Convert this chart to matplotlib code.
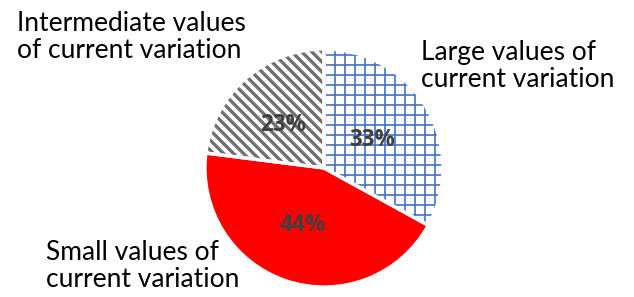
import matplotlib
matplotlib.use('Agg')
import matplotlib.pyplot as plt

labels = ['Large values of\ncurrent variation', 'Small values of\ncurrent variation',
          'Intermediate values\nof current variation']
shares = [33, 44, 23]
pct_text = ['33%', '44%', '23%']

W, H = 634, 297
DPI = 120
BS = chr(92)
plt.rcParams['font.family'] = ['Lato', 'DejaVu Sans']

fig = plt.figure(figsize=(W / DPI, H / DPI), dpi=DPI)
ax = fig.add_axes([0, 0, 1, 1])

cx, cy, r = 324, H - 168, 119

# filled / hatched wedges
wedges, _ = ax.pie(shares, startangle=90, counterclock=False, center=(cx, cy), radius=r,
                   colors=['white', '#FF0000', 'white'], frame=True)
hatch_style = [('++', '#4472C4', 1.0), (None, None, None), (BS * 4, '#707070', 2.0)]
for w, (h, c, lw) in zip(wedges, hatch_style):
    w.set_linewidth(0)
    if h:
        w.set_hatch(h)
        w.set_edgecolor(c)
        if hasattr(w, 'set_hatch_linewidth'):
            w.set_hatch_linewidth(lw)

# white separators
ax.pie(shares, startangle=90, counterclock=False, center=(cx, cy), radius=r,
       colors=['none'] * 3, wedgeprops=dict(edgecolor='white', linewidth=2), frame=True)
ax.set_xlim(0, W)
ax.set_ylim(0, H)
ax.set_aspect('equal')
ax.axis('off')

pct_pos = [(372, 140), (303, 225), (283, 125)]
for (x, y), t in zip(pct_pos, pct_text):
    ax.text(x, H - y, t, ha='center', va='center', fontsize=13.5, fontweight='bold',
            color='#404040', family=['Open Sans', 'DejaVu Sans'])

lab_pos = [(421, 66), (46, 266), (17, 37)]
for (x, y), t in zip(lab_pos, labels):
    ax.text(x, H - y, t, ha='left', va='center', fontsize=15.8, color='black', linespacing=1.1)

fig.savefig('out.png', dpi=DPI)
